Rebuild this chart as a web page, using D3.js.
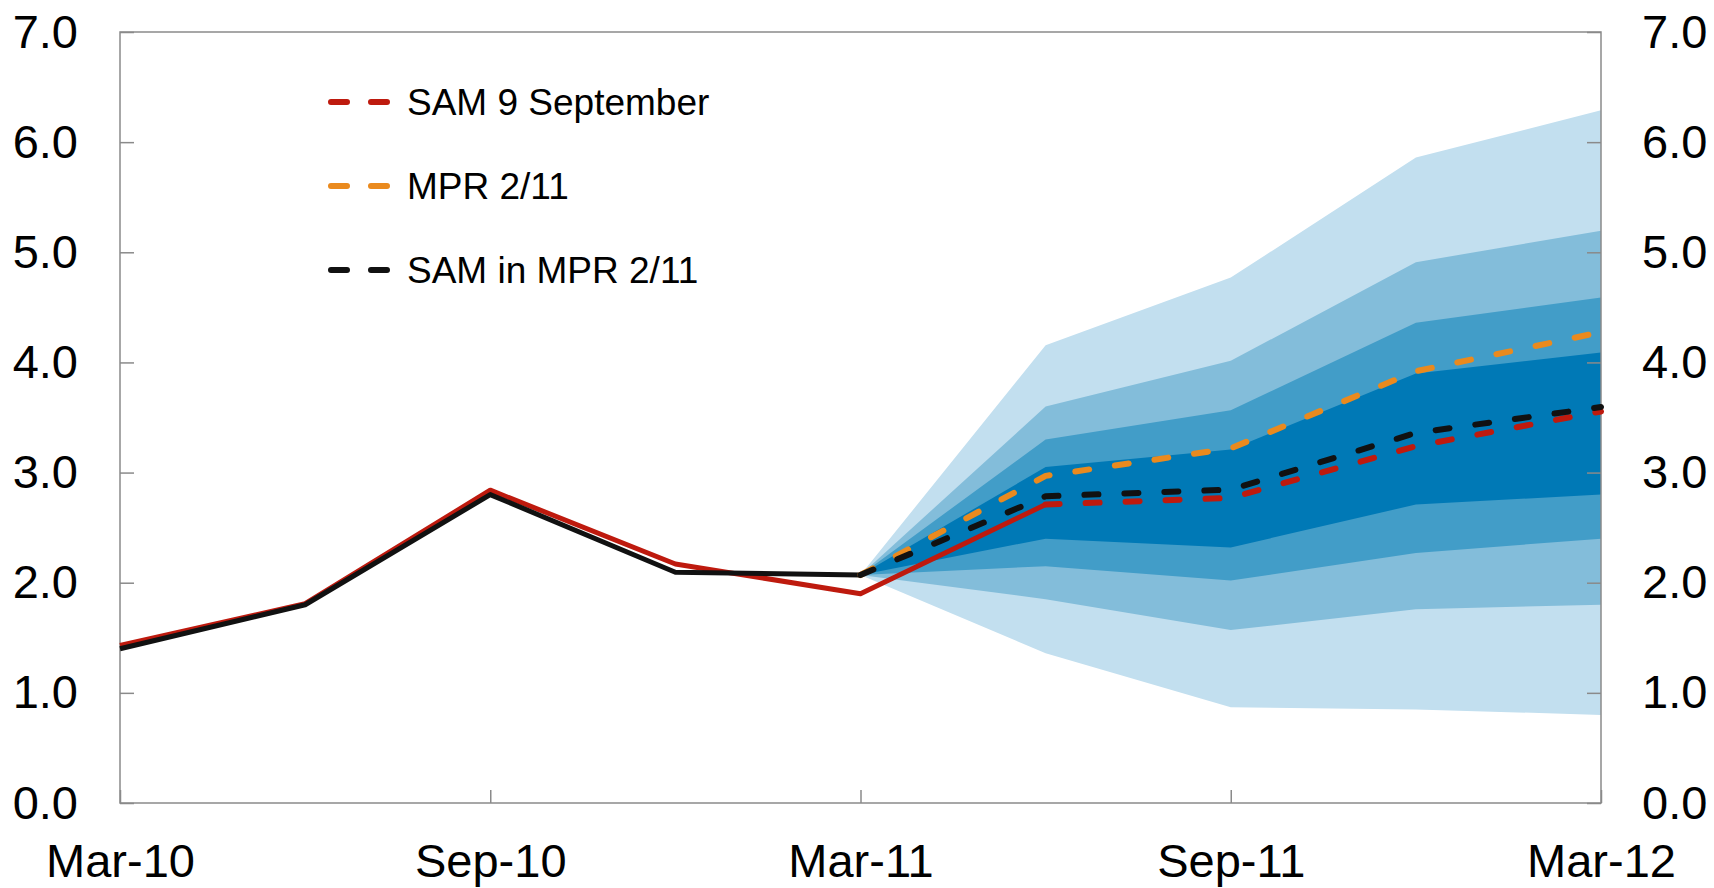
<!DOCTYPE html>
<html>
<head>
<meta charset="utf-8">
<script src="https://cdn.jsdelivr.net/npm/d3@7"></script>
<style>
	body { margin: 0; background: #fff; }
	svg { display: block; font-family: "Liberation Sans", Arial, sans-serif; }
	.tick line { stroke: #8a8a8a; stroke-width: 1.5px; }
	.tick text { fill: #000; }
</style>
</head>
<body>
<svg id="chart"></svg>
<script>

//quarters on the x axis
var quarters = ["Mar-10", "Jun-10", "Sep-10", "Dec-10", "Mar-11", "Jun-11", "Sep-11", "Dec-11", "Mar-12"];
var xTickLabels = ["Mar-10", "Sep-10", "Mar-11", "Sep-11", "Mar-12"];
var yTicks = [0, 1, 2, 3, 4, 5, 6, 7];

//series: SAM 9 September (solid up to Jun-11, dashed after)
var sam9Sep = [1.43, 1.81, 2.84, 2.17, 1.90, 2.71, 2.77, 3.24, 3.555];
var sam9SepSolidEnd = 5;
//series: SAM in MPR 2/11 (solid up to Mar-11, dashed after)
var samMpr = [1.40, 1.80, 2.80, 2.095, 2.07, 2.785, 2.845, 3.36, 3.595];
var samMprSolidEnd = 4;
//series: MPR 2/11 (projection only)
var mpr = [null, null, null, null, 2.07, 2.97, 3.22, 3.92, 4.275];

//fan chart bands, from Mar-11 to Mar-12
var fanStart = 4;
var lo90 = [2.07, 1.36, 0.87, 0.85, 0.80];
var lo70 = [2.07, 1.85, 1.57, 1.76, 1.80];
var lo50 = [2.07, 2.15, 2.02, 2.27, 2.40];
var lo30 = [2.07, 2.40, 2.32, 2.71, 2.80];
var hi30 = [2.07, 3.05, 3.21, 3.90, 4.09];
var hi50 = [2.07, 3.30, 3.565, 4.36, 4.59];
var hi70 = [2.07, 3.60, 4.015, 4.91, 5.195];
var hi90 = [2.07, 4.155, 4.77, 5.86, 6.29];

var legendLabels = ["SAM 9 September", "MPR 2/11", "SAM in MPR 2/11"];

(function(d3) {

	var width = 1714, height = 888;
	var m = { left: 120, right: 113, top: 32, bottom: 85 };
	var colRed = "#be1a0e", colOrange = "#ea8a1e", colBlack = "#111111";
	var fanColors = ["#c2dfef", "#83bdda", "#429dc8", "#0079b6"];

	var svg = d3.select("#chart").attr("width", width).attr("height", height);

	var x = d3.scaleLinear().domain([0, quarters.length - 1]).range([m.left, width - m.right]);
	var y = d3.scaleLinear().domain([0, 7]).range([height - m.bottom, m.top]);

	//fan bands
	var bands = [[lo90, hi90], [lo70, hi70], [lo50, hi50], [lo30, hi30]];
	var area = d3.area()
		.x(function(d) { return x(d.i); })
		.y0(function(d) { return y(d.lo); })
		.y1(function(d) { return y(d.hi); });
	svg.append("g").selectAll("path").data(bands)
		.enter().append("path")
		.attr("d", function(b) {
			return area(b[0].map(function(v, k) { return { i: fanStart + k, lo: v, hi: b[1][k] }; }));
		})
		.style("fill", function(b, k) { return fanColors[k]; })
		.style("stroke", "none");

	//frame
	svg.append("rect")
		.attr("x", x(0)).attr("y", y(7))
		.attr("width", x(quarters.length - 1) - x(0)).attr("height", y(0) - y(7))
		.style("fill", "none").style("stroke", "#8a8a8a").style("stroke-width", "1.5px");

	//axes
	var fmt = d3.format(".1f");
	var gl = svg.append("g").attr("transform", "translate(" + x(0) + ",0)")
		.call(d3.axisLeft(y).tickValues(yTicks).tickFormat(fmt).tickSizeInner(-14).tickSizeOuter(0).tickPadding(42));
	var gr = svg.append("g").attr("transform", "translate(" + x(quarters.length - 1) + ",0)")
		.call(d3.axisRight(y).tickValues(yTicks).tickFormat(fmt).tickSizeInner(-14).tickSizeOuter(0).tickPadding(41));
	var gb = svg.append("g").attr("transform", "translate(0," + y(0) + ")")
		.call(d3.axisBottom(x)
			.tickValues(xTickLabels.map(function(l) { return quarters.indexOf(l); }))
			.tickFormat(function(i) { return quarters[i]; })
			.tickSizeInner(-13).tickSizeOuter(0).tickPadding(41));
	[gl, gr, gb].forEach(function(g) {
		g.select(".domain").remove();
		g.selectAll("text").style("font-size", "47px").style("font-family", "\"Liberation Sans\", Arial, sans-serif");
	});

	//lines
	var line = d3.line()
		.defined(function(d) { return d.v != null; })
		.x(function(d) { return x(d.i); })
		.y(function(d) { return y(d.v); });
	function pts(arr, from, to) {
		var out = [];
		for (var i = from; i <= to; i++) out.push({ i: i, v: arr[i] });
		return out;
	}
	function draw(data, color, dashed) {
		svg.append("path").attr("d", line(data))
			.style("fill", "none")
			.style("stroke", color)
			.style("stroke-width", dashed ? "6px" : "5px")
			.style("stroke-linejoin", "round")
			.style("stroke-linecap", dashed ? "round" : "butt")
			.style("stroke-dasharray", dashed ? "14,26" : null);
	}
	var last = quarters.length - 1;
	draw(pts(sam9Sep, 0, sam9SepSolidEnd), colRed, false);
	draw(pts(samMpr, 0, samMprSolidEnd), colBlack, false);
	draw(pts(sam9Sep, sam9SepSolidEnd, last), colRed, true);
	draw(pts(mpr, fanStart, last), colOrange, true);
	draw(pts(samMpr, samMprSolidEnd, last), colBlack, true);

	//legend
	var legColors = [colRed, colOrange, colBlack];
	var leg = svg.append("g").selectAll("g").data(legendLabels)
		.enter().append("g")
		.attr("transform", function(d, k) { return "translate(331," + (102 + k * 84) + ")"; });
	leg.append("line")
		.attr("x1", 0).attr("x2", 57)
		.style("stroke", function(d, k) { return legColors[k]; })
		.style("stroke-width", "6px")
		.style("stroke-linecap", "round")
		.style("stroke-dasharray", "16,24");
	leg.append("text")
		.attr("x", 76).attr("dy", "0.36em")
		.style("font-size", "37px")
		.text(function(d) { return d; });

}(d3));
</script>
</body>
</html>
